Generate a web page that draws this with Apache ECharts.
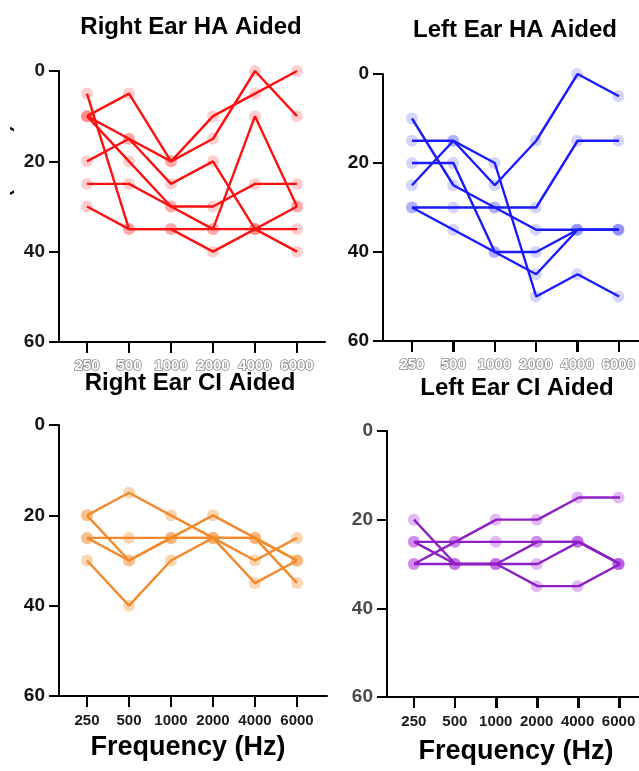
<!DOCTYPE html>
<html>
<head>
<meta charset="utf-8">
<script src="https://cdn.jsdelivr.net/npm/echarts@6/dist/echarts.min.js"></script>
<style>
html,body{margin:0;padding:0;background:#fff;}
#chart{width:639px;height:771px;}
</style>
</head>
<body>
<div id="chart"></div>
<script>
// ---- data ----
const freqs = ['250', '500', '1000', '2000', '4000', '6000'];
const rightHA = [
  [5, 35, 35, 35, 35, 35],
  [10, 5, 20, 15, 0, 10],
  [20, 15, 20, 10, 5, 0],
  [10, 15, 25, 20, 35, 40],
  [10, 20, 30, 35, 10, 30],
  [25, 25, 30, 30, 25, 25],
  [30, 35, 35, 40, 35, 30]
];
const leftHA = [
  [10, 25, 30, 35, 35, 35],
  [15, 15, 20, 50, 45, 50],
  [25, 15, 25, 15, 0, 5],
  [20, 20, 40, 40, 35, 35],
  [30, 30, 30, 30, 15, 15],
  [30, 35, 40, 45, 35, 35]
];
const rightCI = [
  [20, 15, 20, 25, 25, 35],
  [20, 30, 25, 20, 25, 30],
  [25, 25, 25, 25, 25, 30],
  [25, 30, 25, 25, 30, 25],
  [30, 40, 30, 25, 35, 30]
];
const leftCI = [
  [20, 30, 30, 25, 25, 30],
  [30, 25, 20, 20, 15, 15],
  [25, 25, 25, 25, 25, 30],
  [25, 30, 30, 35, 35, 30],
  [30, 30, 30, 30, 25, 30]
];
const titles = ['Right Ear HA Aided', 'Left Ear HA Aided', 'Right Ear CI Aided', 'Left Ear CI Aided'];
const xName = 'Frequency (Hz)';
const yName = 'Threshold (dB HL)';

// ---- layout / style ----
const FONT = '"Liberation Sans", Arial, Helvetica, sans-serif';
const panels = [
  {data: rightHA, left: 59, top: 71, width: 266, height: 271, tick0: 87, step: 42,
   line: '#ff1010', mark: 'rgba(255,40,40,0.28)', yColor: '#1a1a1a', topLabels: true},
  {data: leftHA, left: 383, top: 74, width: 256, height: 267, tick0: 412, step: 41.4,
   line: '#1a1aff', mark: 'rgba(40,40,255,0.25)', yColor: '#111', topLabels: true},
  {data: rightCI, left: 59, top: 425, width: 268, height: 271, tick0: 87, step: 42,
   line: '#f2892a', mark: 'rgba(248,170,100,0.62)', yColor: '#111', topLabels: false},
  {data: leftCI, left: 387, top: 431, width: 252, height: 266, tick0: 414, step: 41.2,
   line: '#8d1fc4', mark: 'rgba(175,60,225,0.45)', yColor: '#4a4a4a', topLabels: false}
];
const Y_TICK = 10, X_TICK = 11;

const grids = [], xAxes = [], yAxes = [], series = [];
const hidden = {axisLine: {show: false}, axisTick: {show: false}, axisLabel: {show: false}};

panels.forEach(p => {
  // outer grid: full-length axis lines, y labels, connecting lines
  const outer = grids.length;
  grids.push({left: p.left, top: p.top, width: p.width, height: p.height});
  xAxes.push({
    type: 'value', gridIndex: outer,
    min: (p.left - p.tick0) / p.step, max: (p.left + p.width - p.tick0) / p.step,
    axisLine: {show: true, onZero: false, lineStyle: {color: '#000', width: 2}},
    axisTick: {show: false}, axisLabel: {show: false}, splitLine: {show: false}
  });
  yAxes.push({
    type: 'value', gridIndex: outer, inverse: true, min: 0, max: 60, interval: 20,
    axisLine: {show: true, onZero: false, lineStyle: {color: '#000', width: 2}},
    axisTick: {show: true, length: Y_TICK, lineStyle: {color: '#000', width: 2}},
    axisLabel: {show: true, margin: 14, fontFamily: FONT, fontWeight: 'bold', fontSize: 19, color: p.yColor},
    splitLine: {show: false}
  });
  // inner grid: category frequency axis (labels + ticks) and markers
  const inner = grids.length;
  grids.push({left: p.tick0 - p.step / 2, top: p.top, width: p.step * freqs.length, height: p.height});
  xAxes.push({
    type: 'category', gridIndex: inner, data: freqs, boundaryGap: true,
    axisLine: {show: true, onZero: false, lineStyle: {color: '#000', width: 2}},
    axisTick: {show: true, alignWithLabel: true, length: X_TICK, lineStyle: {color: '#000', width: 2}},
    axisLabel: p.topLabels ? {
      show: true, interval: 0, margin: 16,
      fontFamily: FONT, fontWeight: 'bold', fontSize: 15, color: '#fff',
      textBorderColor: '#8a8a8a', textBorderWidth: 1.6
    } : {
      show: true, interval: 0, margin: 17,
      fontFamily: FONT, fontWeight: 'bold', fontSize: 15, color: '#1a1a1a'
    },
    splitLine: {show: false}
  });
  yAxes.push(Object.assign({type: 'value', gridIndex: inner, inverse: true, min: 0, max: 60, interval: 20,
    splitLine: {show: false}}, hidden));
  // y tick strip (left of the y axis): split lines act as outward ticks
  const ys = grids.length;
  grids.push({left: p.left - Y_TICK, top: p.top, width: Y_TICK, height: p.height});
  xAxes.push(Object.assign({type: 'value', gridIndex: ys, min: 0, max: 1, splitLine: {show: false}}, hidden));
  yAxes.push(Object.assign({type: 'value', gridIndex: ys, inverse: true, min: 0, max: 60, interval: 20,
    splitLine: {show: true, lineStyle: {color: '#000', width: 2}}}, hidden));
  // x tick strip (below the x axis)
  const xs = grids.length;
  grids.push({left: p.tick0, top: p.top + p.height, width: p.step * (freqs.length - 1), height: X_TICK});
  xAxes.push(Object.assign({type: 'category', gridIndex: xs, data: freqs, boundaryGap: false,
    splitLine: {show: true, interval: 0, lineStyle: {color: '#000', width: 2}}}, hidden));
  yAxes.push(Object.assign({type: 'value', gridIndex: xs, min: 0, max: 1, splitLine: {show: false}}, hidden));

  p.data.forEach(row => {
    series.push({
      type: 'scatter', xAxisIndex: inner, yAxisIndex: inner, data: row, symbol: 'circle', symbolSize: 12,
      itemStyle: {color: p.mark}, z: 2, silent: true
    });
    series.push({
      type: 'line', xAxisIndex: outer, yAxisIndex: outer, data: row.map((v, i) => [i, v]),
      showSymbol: false, symbol: 'none', lineStyle: {color: p.line, width: 2.4}, z: 3, silent: true
    });
  });
});

// off-canvas grid with default axis settings
const off = grids.length;
grids.push({left: 700, top: 0, width: 20, height: 20});
xAxes.push({type: 'value', gridIndex: off, min: 0, max: 1});
yAxes.push({type: 'value', gridIndex: off, min: 0, max: 1});

const titleStyle = (x, y, text, size) => ({
  type: 'text', x: x, y: y, z: 20,
  style: {text: text, fill: '#000', font: 'bold ' + size + 'px ' + FONT, align: 'center', verticalAlign: 'middle'}
});

const graphic = [
  titleStyle(191, 27, titles[0], 24),
  titleStyle(515, 30, titles[1], 24),
  titleStyle(190, 383, titles[2], 24),
  titleStyle(517, 388, titles[3], 24),
  titleStyle(188, 748, xName, 27),
  titleStyle(516, 752, xName, 27),
  {type: 'text', x: 14, y: 212, rotation: Math.PI / 2, z: 5,
   style: {text: yName, fill: '#111', font: 'bold 20px ' + FONT, align: 'center', verticalAlign: 'bottom'}},
  {type: 'rect', shape: {x: 0, y: 60, width: 10, height: 300}, z: 10, style: {fill: '#fff'}}
];

const chart = echarts.init(document.getElementById('chart'), null, {renderer: 'canvas'});
chart.setOption({
  animation: false,
  backgroundColor: '#fff',
  grid: grids, xAxis: xAxes, yAxis: yAxes, series: series, graphic: graphic
});
</script>
</body>
</html>
